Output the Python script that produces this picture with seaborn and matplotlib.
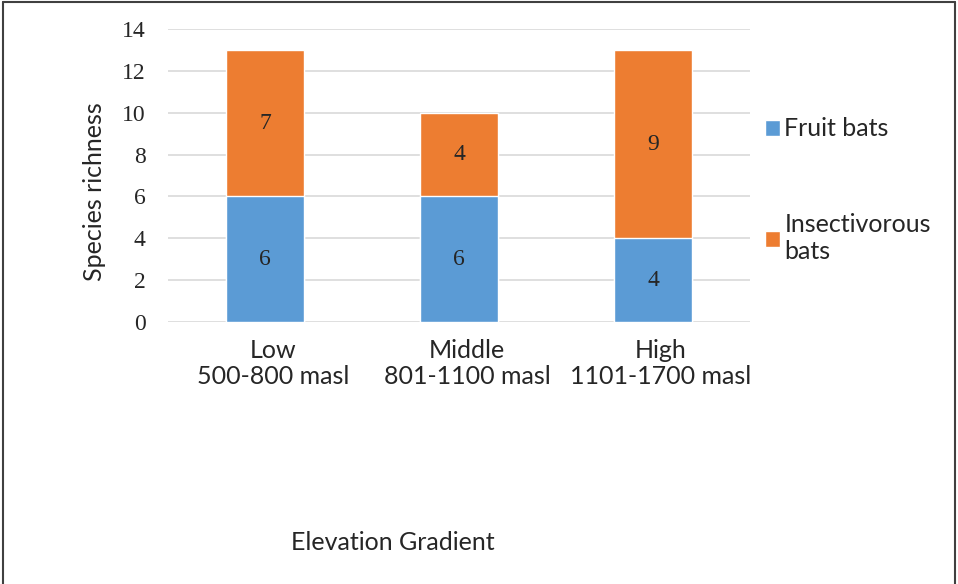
import matplotlib
matplotlib.use("Agg")
import matplotlib.pyplot as plt
import matplotlib.transforms as mtrans
import seaborn as sns
import pandas as pd

# data
categories = ["Low\n500-800 masl", "Middle\n801-1100 masl", "High\n1101-1700 masl"]
fruit_bats = [6, 6, 4]
insect_bats = [7, 4, 9]
yticks = [0, 2, 4, 6, 8, 10, 12, 14]

BLUE = "#5B9BD5"
ORANGE = "#ED7D31"
SANS = ["Lato", "DejaVu Sans"]
SERIF = ["Liberation Serif", "DejaVu Serif"]

sns.set_style("white")
plt.rcParams["font.family"] = SANS

df = pd.DataFrame({"cat": categories, "fruit": fruit_bats, "insect": insect_bats})
df["total"] = df["fruit"] + df["insect"]

fig = plt.figure(figsize=(9.58, 5.84), dpi=100)
ax = fig.add_axes([168 / 958, 1 - 322 / 584, 582 / 958, 293 / 584])

# stacked bars: totals first, then the lower series on top
sns.barplot(data=df, x="cat", y="total", color=ORANGE, width=0.4, saturation=1,
            label="Insectivorous\nbats", ax=ax, zorder=3)
sns.barplot(data=df, x="cat", y="fruit", color=BLUE, width=0.4, saturation=1,
            label="Fruit bats", ax=ax, zorder=3)
h, l = ax.get_legend_handles_labels()
if ax.get_legend() is not None:
    ax.get_legend().remove()

ax.set_ylim(0, 14)
ax.set_yticks(yticks)
ax.yaxis.grid(True, color="#D9D9D9", linewidth=1.2, zorder=0)
ax.set_axisbelow(True)
for s in ax.spines.values():
    s.set_visible(False)
ax.tick_params(axis="both", length=0)
ax.tick_params(axis="y", pad=16)
ax.tick_params(axis="x", pad=12)
for t in ax.get_yticklabels():
    t.set_fontfamily(SERIF)
    t.set_fontsize(17)
    t.set_color("#262626")
offset = mtrans.ScaledTranslation(8 / 100, 0, fig.dpi_scale_trans)
for t in ax.get_xticklabels():
    t.set_fontsize(18)
    t.set_color("#262626")
    t.set_transform(t.get_transform() + offset)
ax.set_xlabel("")
ax.set_ylabel("")

# value labels in the middle of each segment
for i, (f, ins) in enumerate(zip(fruit_bats, insect_bats)):
    ax.text(i, f / 2, str(f), ha="center", va="center", fontsize=17,
            family=SERIF, color="#262626", zorder=5)
    ax.text(i, f + ins / 2, str(ins), ha="center", va="center", fontsize=17,
            family=SERIF, color="#262626", zorder=5)

leg = fig.legend(h[::-1], l[::-1], loc="upper left", bbox_to_anchor=(742 / 958, 1 - 95 / 584),
                 frameon=False, fontsize=18, handlelength=0.6, handleheight=0.6,
                 handletextpad=0.2, labelspacing=2.9)
for t in leg.get_texts():
    t.set_color("#262626")

fig.text(95 / 958, 1 - 192 / 584, "Species richness", rotation=90, ha="center",
         va="center", fontsize=18, color="#262626")
fig.text(393 / 958, 1 - 543 / 584, "Elevation Gradient", ha="center", va="center",
         fontsize=18, color="#262626")

# outer frame (left, top, right)
for xs, ys in [([0.003, 0.003], [0, 0.997]), ([0.003, 0.997], [0.997, 0.997]),
               ([0.997, 0.997], [0, 0.997])]:
    fig.add_artist(plt.Line2D(xs, ys, color="#404040", linewidth=1.5,
                              transform=fig.transFigure))

fig.savefig("out.png", dpi=100)
